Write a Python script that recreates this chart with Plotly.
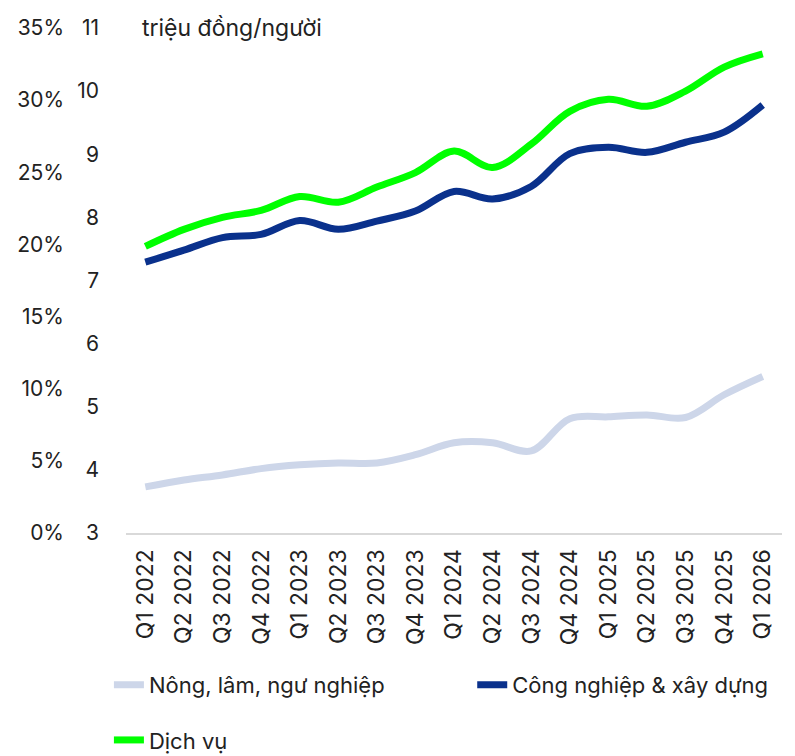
import plotly.graph_objects as go

quarters = ["Q1 2022", "Q2 2022", "Q3 2022", "Q4 2022",
            "Q1 2023", "Q2 2023", "Q3 2023", "Q4 2023",
            "Q1 2024", "Q2 2024", "Q3 2024", "Q4 2024",
            "Q1 2025", "Q2 2025", "Q3 2025", "Q4 2025", "Q1 2026"]

nong_lam = [3.73, 3.84, 3.92, 4.02, 4.08, 4.11, 4.11, 4.24,
            4.43, 4.43, 4.30, 4.81, 4.84, 4.87, 4.83, 5.19, 5.48]
cong_nghiep = [7.29, 7.48, 7.68, 7.73, 7.95, 7.81, 7.94, 8.10,
               8.41, 8.29, 8.49, 9.01, 9.11, 9.03, 9.19, 9.35, 9.78]
dich_vu = [7.54, 7.81, 8.00, 8.11, 8.33, 8.24, 8.48, 8.71,
           9.05, 8.79, 9.16, 9.68, 9.87, 9.76, 10.00, 10.38, 10.59]

# left-hand percentage scale (no series drawn on it)
pct_range = [0, 0.35]

FONT = "Inter"

fig = go.Figure()
fig.add_trace(go.Scatter(x=quarters, y=nong_lam, name="Nông, lâm, ngư nghiệp",
                         mode="lines", line=dict(color="#CDD6E9", width=7, shape="spline"),
                         legend="legend"))
fig.add_trace(go.Scatter(x=quarters, y=cong_nghiep, name="Công nghiệp & xây dựng",
                         mode="lines", line=dict(color="#0A318C", width=7, shape="spline"),
                         legend="legend3"))
fig.add_trace(go.Scatter(x=quarters, y=dich_vu, name="Dịch vụ",
                         mode="lines", line=dict(color="#00FF00", width=7, shape="spline"),
                         legend="legend2"))
# empty trace so the percentage axis gets drawn
fig.add_trace(go.Scatter(x=quarters, y=[None] * len(quarters), yaxis="y2",
                         showlegend=False, hoverinfo="skip"))

leg = dict(orientation="h", xanchor="left", yanchor="middle", xref="container",
           yref="container", font=dict(size=22), itemwidth=30)

fig.update_layout(
    width=795, height=756,
    margin=dict(l=64, r=13, t=28, b=223),
    paper_bgcolor="white", plot_bgcolor="white",
    font=dict(family=FONT, size=21, color="#222222"),
    xaxis=dict(domain=[0.0864, 1], range=[-0.5, 16.5], tickangle=-90,
               showgrid=False, showline=True, linecolor="#D9D9D9", linewidth=2,
               ticks="", tickfont=dict(size=23), ticklabelstandoff=5,
               automargin=False),
    yaxis=dict(range=[3, 11], dtick=1, showgrid=False, zeroline=False,
               showline=False, ticks="", ticklabelstandoff=26,
               tickfont=dict(size=21), automargin=False),
    yaxis2=dict(range=pct_range, dtick=0.05, tickformat=".0%", overlaying="y",
                anchor="free", position=0, side="left", showgrid=False,
                zeroline=False, showline=False, ticks="", tickfont=dict(size=21),
                automargin=False),
    legend=dict(leg, x=0.137, y=0.094),
    legend3=dict(leg, x=0.594, y=0.094),
    legend2=dict(leg, x=0.137, y=0.021),
    annotations=[dict(text="triệu đồng/người", x=0.106, y=1.0, xref="paper", yref="paper",
                      xanchor="left", yanchor="middle", showarrow=False,
                      font=dict(size=23))],
    showlegend=True,
)

fig.write_html("out.html", config={"displayModeBar": False},
               post_script="document.body.style.margin='0';")
